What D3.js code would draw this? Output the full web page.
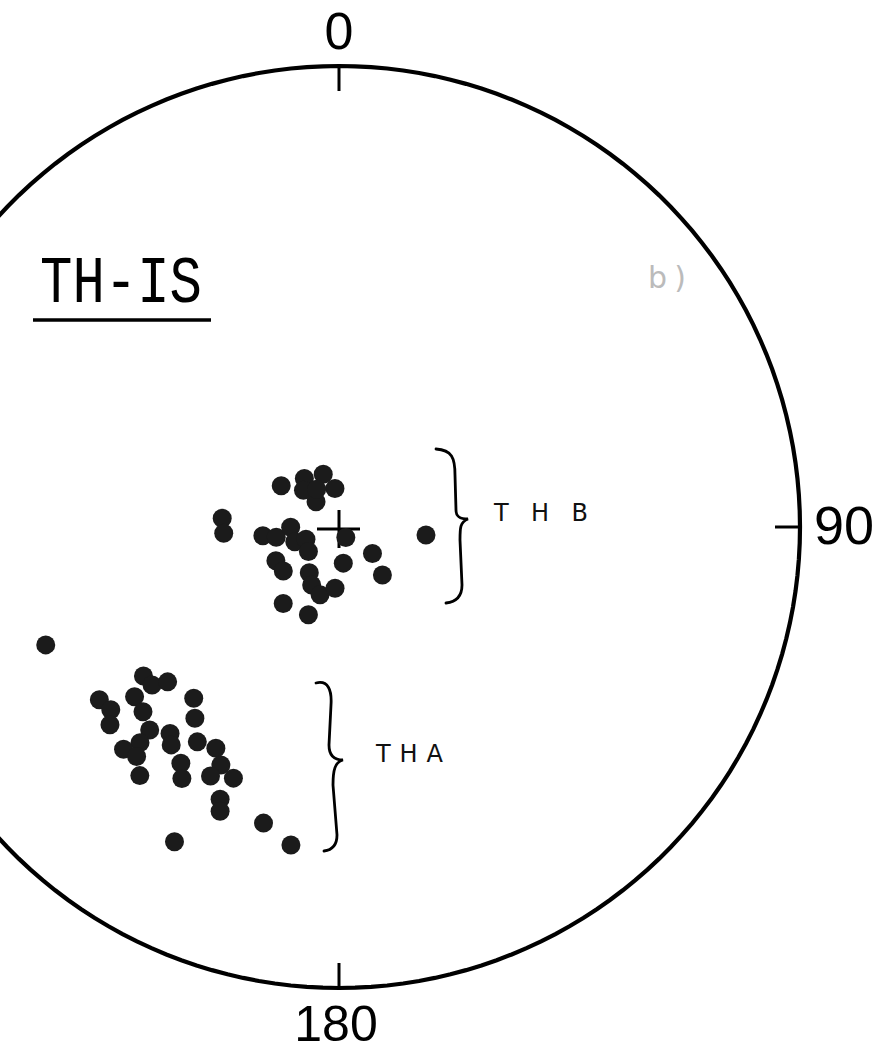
<!DOCTYPE html>
<html>
<head>
<meta charset="utf-8">
<script src="https://cdn.jsdelivr.net/npm/d3@7"></script>
<style>
  html, body { margin: 0; padding: 0; background: #fff; }
  svg { display: block; }
</style>
</head>
<body>
<svg id="net" width="882" height="1053"></svg>
<script>
// Directions of magnetisation, site TH-IS (declination / inclination, degrees)
const thbDec = [305.5, 324.5, 316.0, 343.4, 354.0, 317.7, 329.4, 274.3, 266.9, 263.5,
                260.7, 269.6, 251.5, 249.6, 231.2, 147.0, 241.9, 231.7, 213.0, 205.2,
                195.6, 183.7, 173.2, 128.3, 137.9, 216.1, 199.2, 95.3];
const thbInc = [77.5, 79.5, 81.0, 80.3, 83.2, 84.0, 82.3, 69.3, 69.6, 76.5,
                78.8, 81.5, 81.8, 83.8, 83.1, 87.8, 77.4, 77.5, 80.4, 78.7,
                77.6, 79.2, 83.6, 82.5, 78.6, 73.3, 73.6, 74.6];

const thaDec = [248.1, 232.7, 229.8, 227.9, 234.2, 231.3, 229.2, 230.3, 226.7, 223.0,
                222.7, 224.1, 221.4, 218.7, 219.3, 217.6, 220.3, 217.0, 213.4, 209.1,
                206.4, 207.3, 202.8, 213.8, 212.0, 203.6, 202.7, 194.3, 188.6, 207.6];
const thaInc = [32.0, 45.7, 45.9, 48.5, 36.1, 36.7, 34.7, 41.9, 41.2, 39.6,
                36.5, 33.3, 34.0, 31.5, 41.7, 40.1, 49.7, 46.9, 43.5, 44.3,
                41.9, 39.1, 40.6, 38.3, 35.9, 35.8, 33.6, 34.1, 30.9, 24.0];

// Azimuth labels around the primitive
const tickAzimuths = [0, 90, 180];
const tickLabels = ["0", "90", "180"];

const title = "TH-IS";
const groupNames = ["THB", "THA"];

// ---------------------------------------------------------------
const W = 882, H = 1053;
const cx = 339, cy = 527, R = 461;

const svg = d3.select("#net");
svg.append("rect").attr("width", W).attr("height", H).attr("fill", "#fff");

// Equal-area (Schmidt) net centred on the vertical
const projection = d3.geoAzimuthalEqualArea()
  .rotate([0, -90])
  .clipAngle(90)
  .scale(R / Math.SQRT2)
  .translate([cx, cy])
  .precision(0.1);
const path = d3.geoPath(projection);

// declination measured clockwise from north (up)
const lonLat = (dec, inc) => [180 - dec, inc];
const proj = (dec, inc) => projection(lonLat(dec, inc));

// primitive circle
svg.append("path")
  .datum({type: "Sphere"})
  .attr("d", path)
  .attr("fill", "none")
  .attr("stroke", "#000")
  .attr("stroke-width", 4.2);

// azimuth ticks, drawn inward from the primitive
tickAzimuths.forEach((az, i) => {
  const p0 = proj(az, 0);
  const ux = (p0[0] - cx) / R, uy = (p0[1] - cy) / R;
  svg.append("line")
    .attr("x1", p0[0]).attr("y1", p0[1])
    .attr("x2", p0[0] - ux * 25).attr("y2", p0[1] - uy * 25)
    .attr("stroke", "#000").attr("stroke-width", 3);
});

const labelFont = "'Liberation Sans', Arial, sans-serif";
[[tickLabels[0], proj(0, 0), 0, -17, "middle", 52],
 [tickLabels[1], proj(90, 0), 14, 17, "start", 54],
 [tickLabels[2], proj(180, 0), -3, 53, "middle", 50]].forEach(([t, p, dx, dy, anchor, fs]) => {
  svg.append("text")
    .attr("x", p[0] + dx).attr("y", p[1] + dy)
    .attr("text-anchor", anchor)
    .attr("font-family", labelFont)
    .attr("font-size", fs)
    .attr("fill", "#000")
    .text(t);
});

// centre cross (vertical direction)
const c = proj(0, 90);
svg.append("path")
  .attr("d", `M${c[0] - 22},${c[1] + 2}H${c[0] + 21}M${c[0]},${c[1] - 17}V${c[1] + 21}`)
  .attr("stroke", "#000").attr("stroke-width", 3).attr("fill", "none");

// directions
const pts = thbDec.map((d, i) => ({dec: d, inc: thbInc[i], g: "THB"}))
  .concat(thaDec.map((d, i) => ({dec: d, inc: thaInc[i], g: "THA"})));

svg.append("g").selectAll("circle")
  .data(pts)
  .join("circle")
  .attr("cx", d => proj(d.dec, d.inc)[0])
  .attr("cy", d => proj(d.dec, d.inc)[1])
  .attr("r", 9.5)
  .attr("fill", "#1b1b1b");

// title
svg.append("text")
  .attr("x", 40).attr("y", 302)
  .attr("font-family", "'Liberation Mono', monospace")
  .attr("font-size", 66)
  .attr("textLength", 162)
  .attr("lengthAdjust", "spacingAndGlyphs")
  .attr("fill", "#000")
  .text(title);
svg.append("line")
  .attr("x1", 33).attr("x2", 211).attr("y1", 320).attr("y2", 320)
  .attr("stroke", "#000").attr("stroke-width", 3.5);

// hand-drawn braces grouping the two populations
const braces = [
  "M436,449 C452,450 455,458 455,475 L456,510 C456,517 460,519 468,519 C460,522 460,528 460,540 L462,585 C462,597 455,602 446,603",
  "M316,683 C328,680 332,690 331,705 L329,745 C329,756 335,760 343,760 C335,762 333,770 333,785 L337,835 C337,845 332,850 324,851"
];
svg.append("g").selectAll("path")
  .data(braces)
  .join("path")
  .attr("d", d => d)
  .attr("fill", "none")
  .attr("stroke", "#000")
  .attr("stroke-width", 2.8)
  .attr("stroke-linecap", "round");

const handFont = "'DejaVu Sans', sans-serif";
[[groupNames[0], 494, 521, 94], [groupNames[1], 376, 762, 67]].forEach(([t, x, y, len]) => {
  svg.append("text")
    .attr("x", x).attr("y", y)
    .attr("font-family", handFont)
    .attr("font-size", 24)
    .attr("textLength", len)
    .attr("lengthAdjust", "spacing")
    .attr("fill", "#111")
    .text(t);
});

// faint panel mark
svg.append("text")
  .attr("x", 648).attr("y", 288)
  .attr("font-family", handFont)
  .attr("font-size", 30)
  .attr("fill", "#bbb")
  .attr("textLength", 38)
  .attr("lengthAdjust", "spacing")
  .text("b)");
</script>
</body>
</html>
